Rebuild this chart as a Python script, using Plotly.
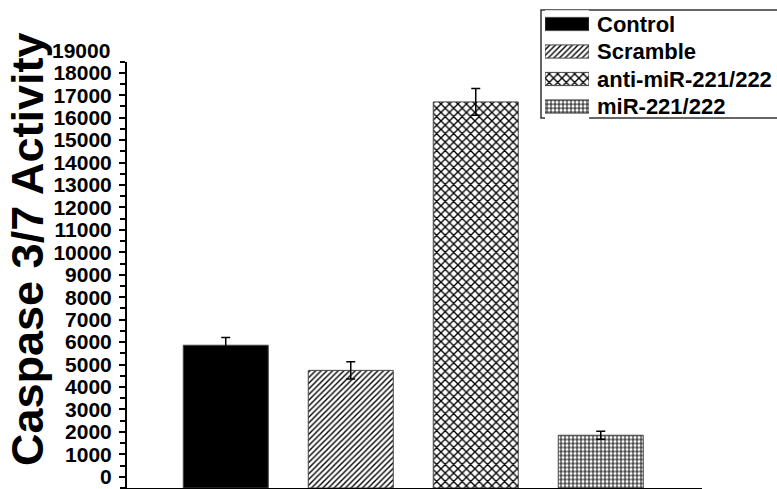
import plotly.graph_objects as go

# ---------------- data ----------------
categories = ["Control", "Scramble", "anti-miR-221/222", "miR-221/222"]
values = [5860, 4740, 16700, 1850]
errors = [340, 380, 600, 180]
tick_values = list(range(0, 19000, 1000))
tick_labels = [str(v) for v in tick_values]
extra_tick_value = 19000
y_min, y_max = -500, 18500
y_title = "Caspase 3/7 Activity"

# ---------------- styles ----------------
W, H = 777, 489
FONT = "Liberation Sans, Arial, Helvetica, sans-serif"
fill_colors = ["black", "white", "white", "white"]
pattern_shapes = ["", "/", "x", "+"]
pattern_sizes = [6, 4, 6, 4]
pattern_solid = [0.3, 0.35, 0.4, 0.4]
y_domain = [1 - 488 / H, 1 - 61.5 / H]

fig = go.Figure()

for i, cat in enumerate(categories):
    marker = dict(
        color=fill_colors[i],
        line=dict(color="#444444", width=1),
        pattern=dict(shape=pattern_shapes[i], size=pattern_sizes[i],
                     solidity=pattern_solid[i], fgcolor="black",
                     bgcolor=fill_colors[i], fillmode="replace"),
    )
    # main bars, drawn up from the bottom of the axis
    fig.add_trace(go.Bar(
        x=[cat], y=[values[i] - y_min], base=y_min, width=0.68,
        marker=marker,
        error_y=dict(type="data", array=[errors[i]], color="black",
                     thickness=1.5, width=4.5),
        showlegend=False, xaxis="x", yaxis="y",
    ))
    # legend swatch
    fig.add_trace(go.Bar(
        y=[cat], x=[1], base=0, orientation="h", width=0.48,
        marker=marker, showlegend=False, xaxis="x2", yaxis="y2",
    ))

# paper position of the unticked 19000 label above the axis end
extra_y = y_domain[0] + (extra_tick_value - y_min) / (y_max - y_min) * (y_domain[1] - y_domain[0])

fig.update_layout(
    width=W, height=H,
    margin=dict(l=0, r=0, t=0, b=0),
    paper_bgcolor="white", plot_bgcolor="white",
    barmode="overlay",
    font=dict(family=FONT, color="black"),
    xaxis=dict(
        domain=[127 / W, 702 / W], type="category",
        range=[-0.79, 3.81], showticklabels=False, ticks="",
        showline=True, linecolor="black", linewidth=2,
        showgrid=False, zeroline=False, anchor="y",
    ),
    yaxis=dict(
        domain=y_domain, range=[y_min, y_max],
        tickmode="array", tickvals=tick_values, ticktext=tick_labels,
        ticks="outside", ticklen=6, tickwidth=1.5, tickcolor="black",
        minor=dict(dtick=500, tick0=0, ticks="outside", ticklen=5,
                   tickwidth=1.5, tickcolor="black", showgrid=False),
        showline=True, linecolor="black", linewidth=2,
        showgrid=False, zeroline=False, anchor="x",
        tickfont=dict(family=FONT, size=21, weight="bold", color="black"),
        ticklabelstandoff=3,
    ),
    xaxis2=dict(
        domain=[545 / W, 589 / W], range=[0, 1], visible=False, anchor="y2",
        fixedrange=True,
    ),
    yaxis2=dict(
        domain=[1 - 120.25 / H, 1 - 10.25 / H], anchor="x2", side="right",
        type="category", categoryorder="array", categoryarray=categories,
        range=[3.5, -0.5], ticks="", showline=False, showgrid=False,
        zeroline=False,
        tickfont=dict(family=FONT, size=22, weight="bold", color="black"),
        ticklabelstandoff=7,
    ),
    shapes=[dict(type="rect", xref="paper", yref="paper",
                 x0=541 / W, x1=1.05, y0=1 - 118 / H, y1=1 - 10 / H,
                 line=dict(color="#333333", width=1.5), fillcolor="rgba(0,0,0,0)",
                 layer="below")],
    annotations=[
        dict(text=y_title, textangle=-90, x=28 / W, y=1 - 249 / H,
             xref="paper", yref="paper", xanchor="center", yanchor="middle",
             showarrow=False,
             font=dict(family=FONT, size=45, weight="bold", color="black")),
        dict(text=str(extra_tick_value), x=112 / W, y=extra_y,
             xref="paper", yref="paper", xanchor="right", yanchor="middle",
             showarrow=False,
             font=dict(family=FONT, size=21, weight="bold", color="black")),
    ],
)

fig.write_html("out.html",
               config={"displayModeBar": False},
               post_script="document.body.style.margin='0px';"
                           "document.body.style.overflow='hidden';")
